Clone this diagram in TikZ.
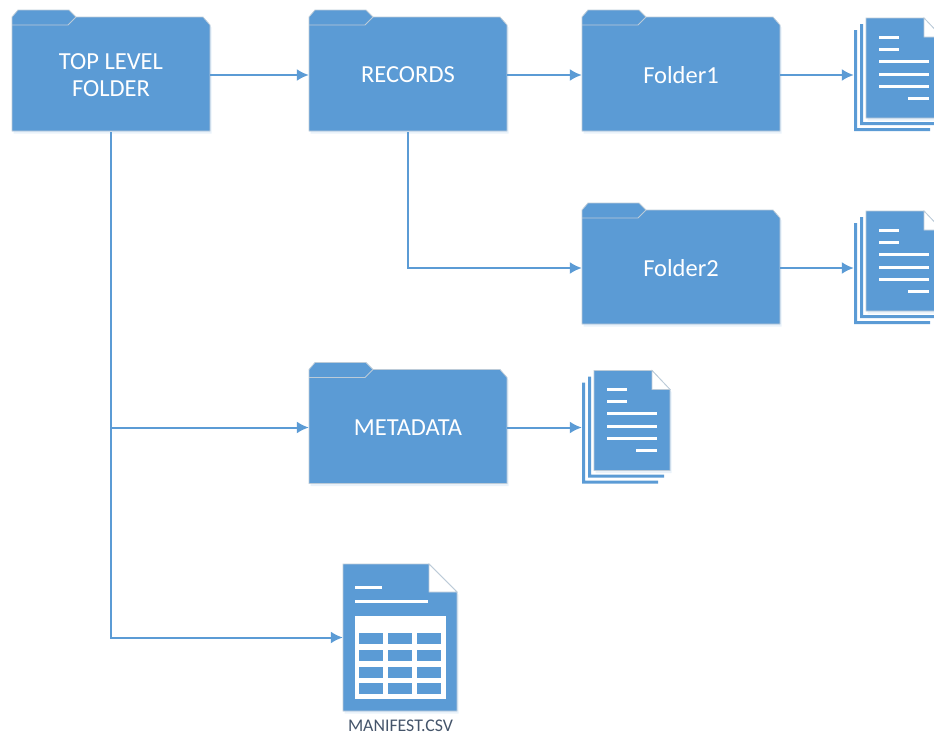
\documentclass[tikz,border=0pt]{standalone}
\usepackage{fontspec}
\setmainfont{Carlito}
\usetikzlibrary{arrows.meta,shadows}
\definecolor{folderblue}{HTML}{5B9BD5}
\definecolor{edgegrey}{HTML}{BCCBD8}
\definecolor{captionblue}{HTML}{44546A}
\tikzset{
	shapefill/.style={fill=folderblue,draw=edgegrey,line width=0.8pt,
		drop shadow={shadow xshift=1.5pt,shadow yshift=-2.5pt,opacity=0.13,fill=folderblue}},
	foldertext/.style={minimum width=198pt,minimum height=114pt,inner sep=0pt,align=center,
		text=white,font=\fontsize{24.5}{27}\selectfont},
	stackbox/.style={minimum width=88pt,minimum height=113pt,inner sep=0pt},
	csvbox/.style={minimum width=114pt,minimum height=147pt,inner sep=0pt},
	link/.style={folderblue,line width=2pt,-{Latex[length=12pt,width=12pt]}},
	textline/.style={white,line width=3pt}
}
% Folder: #1 name, (#2,#3) top left corner of the body, #4 text.
\newcommand{\folder}[4]{
	\begin{scope}[shift={(#2,#3)}]
		\draw[shapefill] (0,114) -- (0,0) -- (6,-7) -- (57,-7) -- (64,0) -- (191,0) -- (198,8) -- (198,114) -- cycle;
		\draw[edgegrey,line width=0.8pt] (0,8) -- (56,8) -- (64,0);
		\node[foldertext] (#1) at (99,58) {#4};
	\end{scope}
}
% Stack of pages: #1 name, (#2,#3) top left corner of the back strip.
\newcommand{\docstack}[3]{
	\begin{scope}[shift={(#2,#3)}]
		\fill[folderblue] (0,12) rectangle (3,113) (0,110) rectangle (76,113);
		\fill[folderblue] (6,6) rectangle (9,107) (6,104) rectangle (82,107);
		\draw[shapefill] (12,0) -- (70,0) -- (88,19) -- (88,100) -- (12,100) -- cycle;
		\draw[fill=white,draw=edgegrey,line width=0.8pt] (70,0) -- (70,19) -- (88,19) -- cycle;
		\draw[textline] (25,19) -- (45,19) (25,31) -- (45,31);
		\foreach \ly in {43,56,68} {
			\draw[textline] (25,\ly) -- (75,\ly);
		}
		\draw[textline] (54,80) -- (75,80);
		\node[stackbox] (#1) at (44,57) {};
	\end{scope}
}

\begin{document}
\begin{tikzpicture}[x=1pt,y=-1pt]
	\clip (0,0) rectangle (934,734);

	% Folders.
	\folder{top}{12}{17}{TOP LEVEL\\FOLDER}
	\folder{records}{309}{17}{RECORDS}
	\folder{folderone}{582}{17}{Folder1}
	\folder{foldertwo}{582}{210}{Folder2}
	\folder{metadata}{309}{369.5}{METADATA}

	% Pages.
	\docstack{docsone}{854}{18}
	\docstack{docstwo}{854}{211}
	\docstack{docsmeta}{582}{370.5}

	% Manifest sheet.
	\begin{scope}[shift={(343,564)}]
		\draw[shapefill] (0,0) -- (86,0) -- (114,28) -- (114,147) -- (0,147) -- cycle;
		\draw[fill=white,draw=edgegrey,line width=0.8pt] (86,0) -- (86,28) -- (114,28) -- cycle;
		\draw[textline] (12,23) -- (39,23) (12,37) -- (85,37);
		\fill[white] (12,52) rectangle (103,135);
		\foreach \cx in {16,45,74} {
			\foreach \cy in {69,86,103,119} {
				\fill[folderblue] (\cx,\cy) rectangle (\cx+23.5,\cy+11);
			}
		}
		\node[csvbox] (manifest) at (57,73.5) {};
	\end{scope}
	\node (manifestlabel) at (400.5,726) [inner sep=0pt,text=captionblue,font=\fontsize{17.8}{20}\selectfont] {MANIFEST.CSV};

	% Connectors.
	\draw[link] (top) -- (records);
	\draw[link] (records) -- (folderone);
	\draw[link] (folderone) -- (docsone);
	\draw[link] (foldertwo) -- (docstwo);
	\draw[link] (metadata) -- (docsmeta);
	\draw[link] (records.south) |- (foldertwo.west);
	\draw[link] (top.south) |- (metadata.west);
	\draw[link] (top.south) |- (manifest.west);
\end{tikzpicture}
\end{document}
